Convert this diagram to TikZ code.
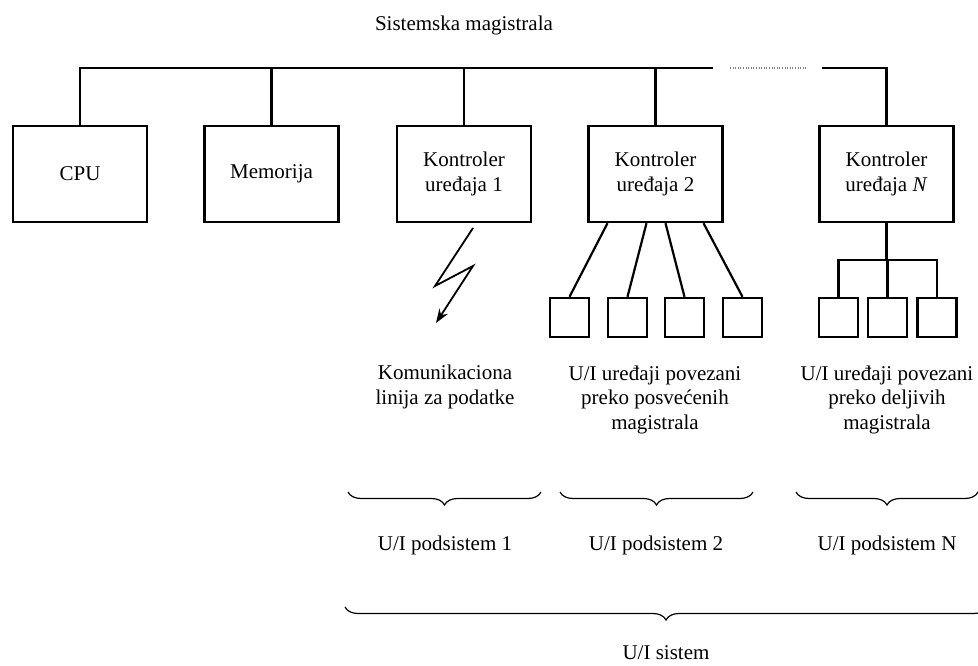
\documentclass[tikz,border=0pt]{standalone}
\usepackage{fontspec}
\setmainfont{Liberation Serif}
\usetikzlibrary{arrows.meta,decorations.pathreplacing}
\tikzset{
  bigbox/.style={draw, line width=2.4pt, rectangle, minimum width=134pt, minimum height=96pt, inner sep=0pt, align=center},
  smallbox/.style={draw, line width=2.4pt, rectangle, minimum width=39pt, minimum height=39pt, inner sep=0pt},
  wire/.style={line width=2.2pt},
  dotbus/.style={line width=1.2pt, gray, dash pattern=on 1pt off 1.6pt},
  brc/.style={line width=1.2pt, decorate, decoration={brace, mirror, amplitude=13pt}},
  lbl/.style={inner sep=0pt, align=center},
  zig/.style={line width=1.8pt, -{Stealth[length=14pt,width=10pt]}}
}
\begin{document}
\begin{tikzpicture}[x=1pt, y=-1pt, font=\fontsize{21pt}{24.5pt}\selectfont]
\useasboundingbox (0,0) rectangle (978,666);

% title
\node[lbl] (title) at (464,25) {Sistemska magistrala};

% main boxes
\node[bigbox] (cpu) at (80,174) {CPU};
\node[bigbox] (mem) at (271.5,174) {Memorija};
\node[bigbox] (k1) at (464,174) {Kontroler\\ uređaja 1};
\node[bigbox] (k2) at (655.5,174) {Kontroler\\ uređaja 2};
\node[bigbox] (kn) at (886.5,174) {Kontroler\\ uređaja \textit{N}};

% bus
\coordinate (bM) at (713,68);
\coordinate (dA) at (730,68);
\coordinate (dB) at (806,68);
\coordinate (bR) at (822,68);
\draw[wire] (cpu.north) |- (bM);
\draw[wire] (mem.north) -- (mem.north |- bM);
\draw[wire] (k1.north) -- (k1.north |- bM);
\draw[wire] (k2.north) -- (k2.north |- bM);
\draw[wire] (bR) -| (kn.north);
\draw[dotbus] (dA) -- (dB);

% lightning (communication line)
\coordinate (z0) at (473,228);
\coordinate (z1) at (435,286);
\coordinate (z2) at (473,266);
\coordinate (z3) at (436,323);
\draw[zig] (z0) -- (z1) -- (z2) -- (z3);

% dedicated buses
\node[smallbox] (d1) at (569.5,317.5) {};
\node[smallbox] (d2) at (627.5,317.5) {};
\node[smallbox] (d3) at (684.5,317.5) {};
\node[smallbox] (d4) at (742.5,317.5) {};
\draw[wire] ([xshift=-48pt]k2.south) -- (d1.north);
\draw[wire] ([xshift=-9pt]k2.south) -- (d2.north);
\draw[wire] ([xshift=10pt]k2.south) -- (d3.north);
\draw[wire] ([xshift=48pt]k2.south) -- (d4.north);

% shared bus
\node[smallbox] (e1) at (838.5,317.5) {};
\node[smallbox] (e2) at (887.5,317.5) {};
\node[smallbox] (e3) at (937,317.5) {};
\coordinate (hub) at (886.5,260);
\draw[wire] (kn.south) -- (hub);
\draw[wire] (e1.north) |- (hub);
\draw[wire] (e3.north) |- (hub);
\draw[wire] (e2.north) -- (e2.north |- hub);

% descriptions
\node[lbl] (t1) at (445,387) {Komunikaciona\\ linija za podatke};
\node[lbl] (t2) at (655,399.5) {U/I uređaji povezani\\ preko posvećenih\\ magistrala};
\node[lbl] (t3) at (887,399.5) {U/I uređaji povezani\\ preko deljivih\\ magistrala};

% braces
\coordinate (a1) at (348,492); \coordinate (a2) at (541,492);
\coordinate (b1) at (560,492); \coordinate (b2) at (753,492);
\coordinate (c1) at (796,492); \coordinate (c2) at (978,492);
\coordinate (s1) at (345,607); \coordinate (s2) at (987,607);
\draw[brc] (a1) -- (a2);
\draw[brc] (b1) -- (b2);
\draw[brc] (c1) -- (c2);
\draw[brc] (s1) -- (s2);

\node[lbl] (p1) at (445,545) {U/I podsistem 1};
\node[lbl] (p2) at (656,545) {U/I podsistem 2};
\node[lbl] (pn) at (887,545) {U/I podsistem N};
\node[lbl] (sys) at (666,653) {U/I sistem};
\end{tikzpicture}
\end{document}
